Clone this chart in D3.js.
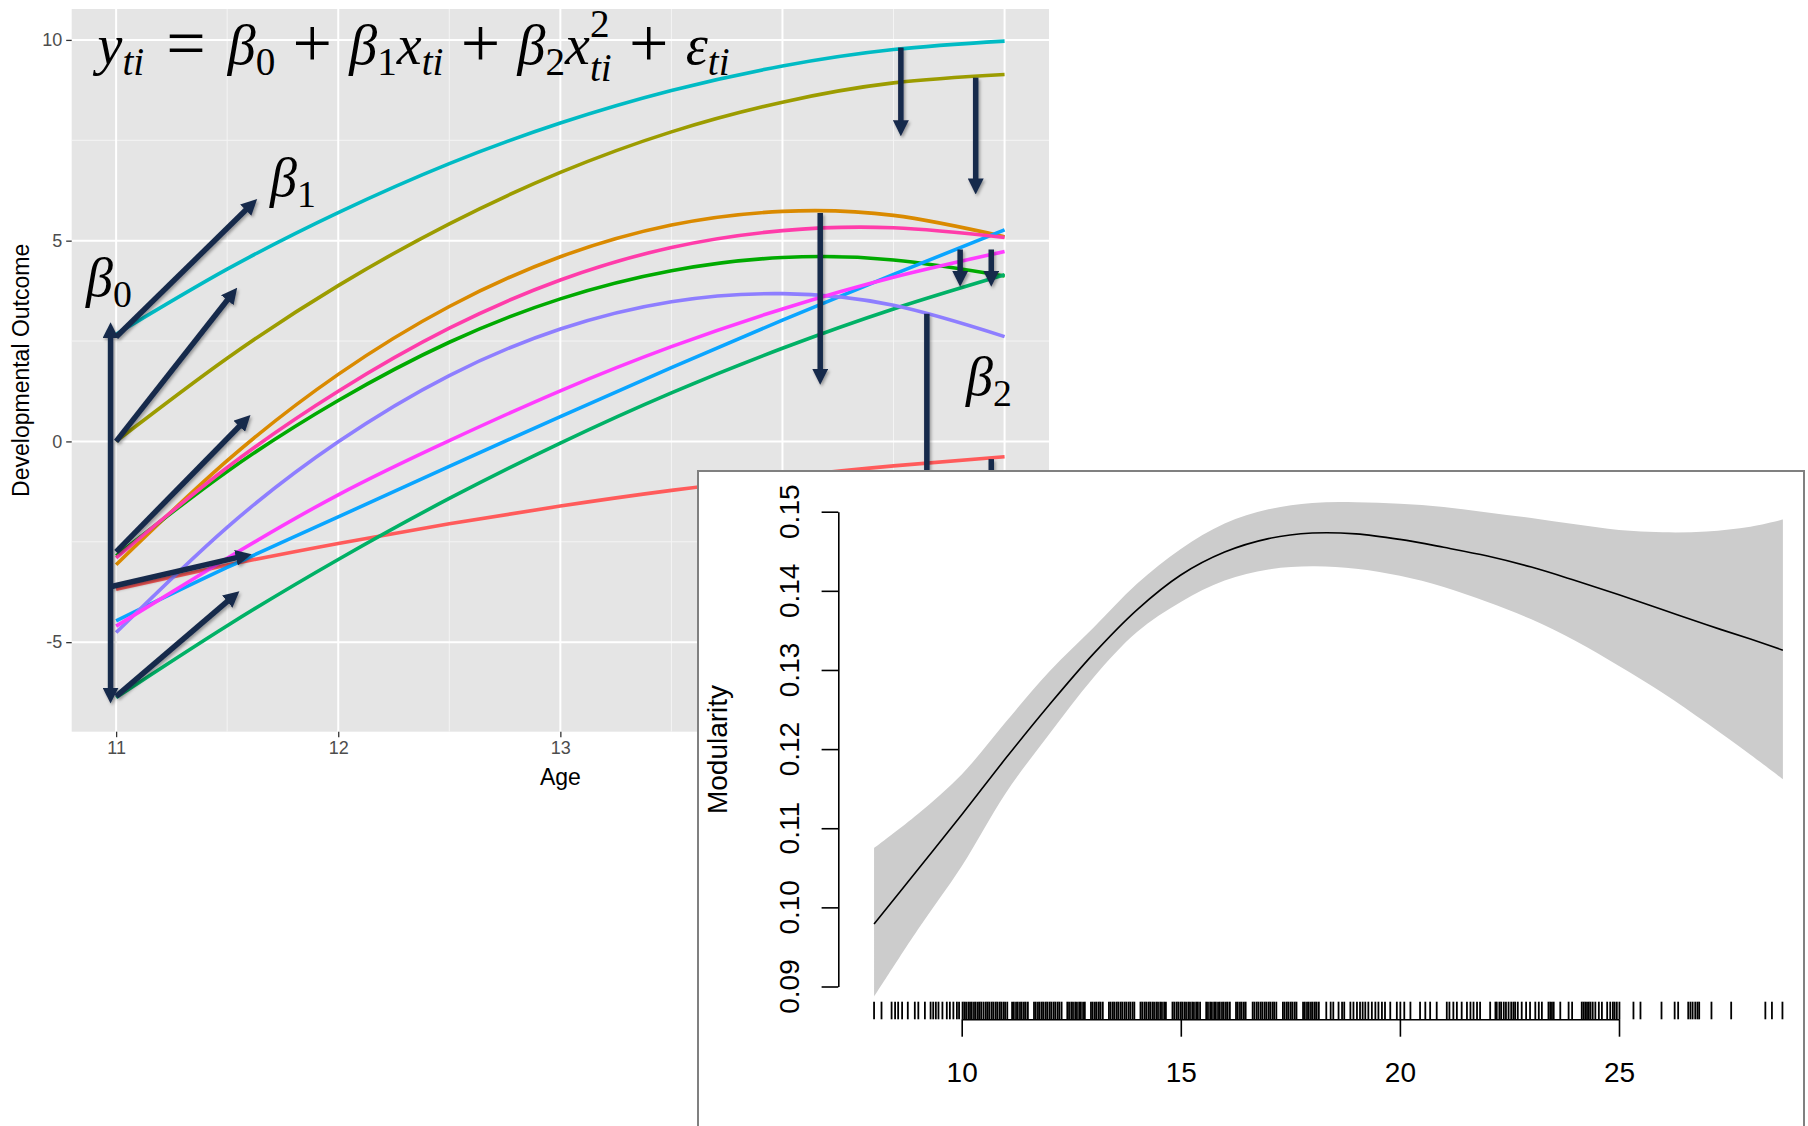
<!DOCTYPE html>
<html>
<head>
<meta charset="utf-8">
<script src="https://cdn.jsdelivr.net/npm/d3@7"></script>
<style>
body { margin: 0; background: #fff; }
svg { display: block; }
</style>
</head>
<body>
<div id="chart"></div>
<script>
// ---- left plot: individual quadratic trajectories, read at each half year ----
var ageGrid = [11, 11.5, 12, 12.5, 13, 13.5, 14, 14.5, 15];

var outcomeRed      = [-3.68, -3.08, -2.54, -2.05, -1.61, -1.22, -0.89, -0.61, -0.38];
var outcomeOrange   = [-3.07, -0.48, 1.67, 3.36, 4.60, 5.39, 5.73, 5.63, 5.10];
var outcomeOlive    = [0.00, 2.07, 3.88, 5.42, 6.70, 7.71, 8.45, 8.93, 9.14];
var outcomeGreen    = [-2.85, -0.75, 1.02, 2.47, 3.55, 4.25, 4.58, 4.52, 4.12];
var outcomeSeaGreen = [-6.38, -4.59, -2.94, -1.42, -0.04, 1.21, 2.32, 3.30, 4.15];
var outcomeCyan     = [2.67, 4.29, 5.70, 6.92, 7.93, 8.74, 9.35, 9.76, 9.97];
var outcomeBlue     = [-4.47, -3.14, -1.88, -0.62, 0.62, 1.84, 3.02, 4.16, 5.27];
var outcomePurple   = [-4.76, -2.14, -0.01, 1.64, 2.80, 3.48, 3.68, 3.39, 2.61];
var outcomeMagenta  = [-4.60, -2.91, -1.33, 0.02, 1.26, 2.36, 3.30, 4.09, 4.73];
var outcomePink     = [-2.90, -0.65, 1.25, 2.82, 4.02, 4.83, 5.25, 5.32, 5.08];

var trajectories = [outcomeRed, outcomeOrange, outcomeOlive, outcomeGreen, outcomeSeaGreen,
                    outcomeCyan, outcomeBlue, outcomePurple, outcomeMagenta, outcomePink];
var trajectoryColors = ["#ff5b5b", "#da8a00", "#9c9c00", "#00aa00", "#00b166",
                        "#00bbc4", "#0aa5ff", "#8e7eff", "#ff3cff", "#ff3caa"];

var ageTicks = [11, 12, 13, 14, 15];
var ageMinor = [11.5, 12.5, 13.5, 14.5];
var outcomeTicks = [-5, 0, 5, 10];
var outcomeMinor = [-2.5, 2.5, 7.5];

// annotation arrows (age, outcome): intercepts, slopes, residual drops
var arrowFromAge = [10.975, 11.0, 11.0, 11.0, 10.975, 11.0, 14.533, 14.87, 14.17, 14.80, 14.94, 14.65, 14.94];
var arrowFromOut = [2.97, 2.60, 0.00, -2.75, -3.62, -6.35, 9.81, 9.06, 5.69, 4.78, 4.78, 3.18, -0.44];
var arrowToAge   = [10.975, 11.635, 11.545, 11.605, 11.61, 11.555, 14.533, 14.87, 14.17, 14.80, 14.94, 14.65, 14.94];
var arrowToOut   = [-6.53, 6.04, 3.83, 0.66, -2.81, -3.73, 7.60, 6.15, 1.41, 3.85, 3.85, -3.0, -3.0];
var arrowDouble  = [true, false, false, false, false, false, false, false, false, false, false, false, false];

// ---- inset: smooth of modularity by age ----
var smoothAge   = [8, 9, 10, 11, 12, 13, 14, 15, 16, 17, 18, 19, 20, 21, 22, 23, 24, 25, 26, 27, 28, 28.74];
var smoothFit   = [0.0979, 0.1048, 0.1117, 0.1188, 0.1256, 0.1320, 0.1376, 0.1420, 0.1449, 0.1466, 0.1473,
                   0.1472, 0.1465, 0.1455, 0.1444, 0.1430, 0.1413, 0.1395, 0.1376, 0.1357, 0.1339, 0.1325];
var smoothUpper = [0.1075, 0.1118, 0.1168, 0.1234, 0.1298, 0.1353, 0.1409, 0.1453, 0.1485, 0.1503, 0.1511,
                   0.1512, 0.1510, 0.1506, 0.1499, 0.1492, 0.1484, 0.1477, 0.1474, 0.1475, 0.1481, 0.1490];
var smoothLower = [0.0887, 0.0972, 0.1052, 0.1144, 0.1219, 0.1290, 0.1348, 0.1386, 0.1413, 0.1427, 0.1431,
                   0.1428, 0.1419, 0.1405, 0.1386, 0.1364, 0.1337, 0.1305, 0.1271, 0.1233, 0.1193, 0.1162];

var modTicks = [0.09, 0.10, 0.11, 0.12, 0.13, 0.14, 0.15];
var insetAgeTicks = [10, 15, 20, 25];

var rugLow = [8.00, 8.17, 8.40, 8.48, 8.55, 8.64, 8.77, 8.93, 9.01, 9.16, 9.29, 9.35, 9.41, 9.47, 9.56,
              9.66, 9.73, 9.81, 9.89, 9.94];
var rugDense = [10.02, 10.06, 10.10, 10.15, 10.19, 10.23, 10.28, 10.32, 10.37, 10.41, 10.45, 10.50, 10.55,
                10.59, 10.63, 10.68, 10.72, 10.77, 10.81, 10.86, 10.90, 10.95, 10.99, 11.04, 11.15, 11.19,
                11.24, 11.28, 11.33, 11.37, 11.42, 11.46, 11.51, 11.65, 11.69, 11.74, 11.78, 11.83, 11.87,
                11.92, 11.96, 12.01, 12.05, 12.10, 12.14, 12.19, 12.23, 12.28, 12.41, 12.45, 12.50, 12.54,
                12.59, 12.63, 12.68, 12.72, 12.77, 12.81, 12.95, 12.99, 13.04, 13.08, 13.13, 13.17, 13.22,
                13.36, 13.40, 13.45, 13.49, 13.54, 13.58, 13.63, 13.67, 13.72, 13.76, 13.81, 13.85, 13.90,
                13.94, 14.08, 14.12, 14.17, 14.21, 14.26, 14.30, 14.35, 14.39, 14.44, 14.48, 14.53, 14.57,
                14.62, 14.66, 14.81, 14.85, 14.90, 14.94, 14.99, 15.03, 15.08, 15.12, 15.17, 15.21, 15.26,
                15.30, 15.35, 15.39, 15.44, 15.58, 15.62, 15.67, 15.71, 15.76, 15.80, 15.85, 15.89, 15.94,
                15.98, 16.03, 16.07, 16.12, 16.26, 16.30, 16.35, 16.39, 16.44, 16.48, 16.64, 16.68, 16.73,
                16.77, 16.82, 16.86, 16.91, 16.95, 17.00, 17.04, 17.09, 17.13, 17.18, 17.33, 17.37, 17.42,
                17.46, 17.51, 17.55, 17.60, 17.64, 17.79, 17.83, 17.88, 17.92, 17.97, 18.01, 18.06, 18.10,
                18.15, 18.32];
var rugMid = [18.42, 18.48, 18.60, 18.68, 18.73, 18.87, 18.94, 19.02, 19.09, 19.15, 19.21, 19.28, 19.36,
              19.44, 19.51, 19.59, 19.66, 19.78, 19.93, 20.01, 20.10, 20.24, 20.46, 20.58, 20.69, 20.84,
              21.07, 21.13, 21.22, 21.30, 21.41, 21.53, 21.61, 21.68, 21.76, 21.83, 22.06, 22.18];
var rugUpper = [22.21, 22.27, 22.31, 22.37, 22.42, 22.48, 22.54, 22.59, 22.63, 22.69, 22.78, 22.88, 22.97,
                23.09, 23.17, 23.24, 23.39, 23.43, 23.47, 23.51, 23.66, 23.85, 23.93, 24.15, 24.19, 24.23,
                24.27, 24.31, 24.35, 24.40, 24.46, 24.54, 24.61, 24.73, 24.80, 24.86, 24.90, 24.95, 25.01];
var rugHigh = [25.33, 25.49, 25.97, 26.27, 26.35, 26.58, 26.63, 26.68, 26.74, 26.79, 26.83, 27.11, 27.56,
               28.34, 28.49, 28.73];

var navy = "#182a4b";
var sansFont = "'Liberation Sans', Arial, Helvetica, sans-serif";
var mathFont = "'Liberation Serif'";

var svg = d3.select("#chart").append("svg")
  .attr("width", 1808)
  .attr("height", 1126);

var defs = svg.append("defs");
defs.append("filter").attr("id", "shadow").attr("x", "-20%").attr("y", "-20%").attr("width", "140%").attr("height", "140%")
  .append("feDropShadow")
  .attr("dx", 1.5).attr("dy", 2).attr("stdDeviation", 1.6)
  .attr("flood-color", "#000").attr("flood-opacity", 0.35);
defs.append("marker")
  .attr("id", "head")
  .attr("markerUnits", "userSpaceOnUse")
  .attr("viewBox", "0 0 16 16")
  .attr("markerWidth", 16).attr("markerHeight", 16)
  .attr("refX", 4).attr("refY", 8)
  .attr("orient", "auto-start-reverse")
  .append("path")
  .attr("d", "M0,0 L16,8 L0,16 Z")
  .attr("fill", navy);

// ================= left plot =================
var xAge = d3.scaleLinear().domain([10.8, 15.2]).range([71.7, 1049]);
var yOut = d3.scaleLinear().domain([-7.23, 10.77]).range([731.7, 9]);

var left = svg.append("g");

left.append("rect")
  .attr("x", xAge.range()[0]).attr("y", yOut.range()[1])
  .attr("width", xAge.range()[1] - xAge.range()[0])
  .attr("height", yOut.range()[0] - yOut.range()[1])
  .attr("fill", "#e5e5e5");

left.selectAll(".vminor").data(ageMinor).enter().append("line")
  .attr("x1", d => xAge(d)).attr("x2", d => xAge(d))
  .attr("y1", yOut.range()[0]).attr("y2", yOut.range()[1])
  .attr("stroke", "#f4f4f4").attr("stroke-width", 1);
left.selectAll(".hminor").data(outcomeMinor).enter().append("line")
  .attr("x1", xAge.range()[0]).attr("x2", xAge.range()[1])
  .attr("y1", d => yOut(d)).attr("y2", d => yOut(d))
  .attr("stroke", "#f4f4f4").attr("stroke-width", 1);
left.selectAll(".vmajor").data(ageTicks).enter().append("line")
  .attr("x1", d => xAge(d)).attr("x2", d => xAge(d))
  .attr("y1", yOut.range()[0]).attr("y2", yOut.range()[1])
  .attr("stroke", "#fff").attr("stroke-width", 2);
left.selectAll(".hmajor").data(outcomeTicks).enter().append("line")
  .attr("x1", xAge.range()[0]).attr("x2", xAge.range()[1])
  .attr("y1", d => yOut(d)).attr("y2", d => yOut(d))
  .attr("stroke", "#fff").attr("stroke-width", 2);

var xAxisL = left.append("g")
  .attr("transform", "translate(0," + yOut.range()[0] + ")")
  .call(d3.axisBottom(xAge).tickValues(ageTicks).tickSize(5.5).tickPadding(4).tickFormat(d3.format("d")));
var yAxisL = left.append("g")
  .attr("transform", "translate(" + xAge.range()[0] + ",0)")
  .call(d3.axisLeft(yOut).tickValues(outcomeTicks).tickSize(5.5).tickPadding(4).tickFormat(d => d < 0 ? "-" + Math.abs(d) : d));
[xAxisL, yAxisL].forEach(function(a) {
  a.select(".domain").remove();
  a.selectAll("line").attr("stroke", "#333").attr("stroke-width", 1.3);
  a.selectAll("text").attr("fill", "#4d4d4d").style("font-size", "18px").style("font-family", sansFont);
});

left.append("text")
  .attr("x", (xAge.range()[0] + xAge.range()[1]) / 2).attr("y", 785)
  .attr("text-anchor", "middle").style("font-size", "23px").style("font-family", sansFont).attr("fill", "#000")
  .text("Age");
left.append("text")
  .attr("transform", "translate(29," + (yOut.range()[0] + yOut.range()[1]) / 2 + ") rotate(-90)")
  .attr("text-anchor", "middle").style("font-size", "23px").style("font-family", sansFont).attr("fill", "#000")
  .text("Developmental Outcome");

var traj = d3.line()
  .x((d, i) => xAge(ageGrid[i]))
  .y(d => yOut(d))
  .curve(d3.curveNatural);

left.selectAll(".traj").data(trajectories).enter().append("path")
  .attr("d", traj)
  .attr("fill", "none")
  .attr("stroke", (d, i) => trajectoryColors[i])
  .attr("stroke-width", 3.6);

// arrows
var arrowG = left.append("g").attr("filter", "url(#shadow)");
arrowG.selectAll(".arrow").data(arrowFromAge).enter().append("line")
  .each(function(d, i) {
    var x1 = xAge(arrowFromAge[i]), y1 = yOut(arrowFromOut[i]);
    var x2 = xAge(arrowToAge[i]), y2 = yOut(arrowToOut[i]);
    var len = Math.hypot(x2 - x1, y2 - y1);
    var ux = (x2 - x1) / len, uy = (y2 - y1) / len;
    var cut = 12;
    if (arrowDouble[i]) { x1 += ux * cut; y1 += uy * cut; }
    x2 -= ux * cut; y2 -= uy * cut;
    d3.select(this)
      .attr("x1", x1).attr("y1", y1).attr("x2", x2).attr("y2", y2)
      .attr("marker-end", "url(#head)")
      .attr("marker-start", arrowDouble[i] ? "url(#head)" : null);
  })
  .attr("stroke", navy)
  .attr("stroke-width", 5.5);

// math labels: one <text> per formula, pieces placed as tspans
function mathText(g, x, y, size, parts, gapScale) {
  var text = g.append("text").style("font-family", mathFont).attr("fill", "#000");
  var cx = x, stackW = 0;
  parts.forEach(function(p) {
    if (p.gap) { cx += p.gap * size * gapScale; return; }
    var fs = p.lvl ? size * 0.7 : p.big ? size * 1.25 : size;
    var dy = p.lvl == "sub" ? size * (p.low ? 0.3 : 0.2) : p.lvl == "sup" ? -size * 0.48 : p.big ? size * 0.06 : 0;
    var ts = text.append("tspan")
      .attr("x", cx).attr("y", y + dy)
      .style("font-family", mathFont)
      .style("font-size", fs + "px")
      .style("font-style", p.it ? "italic" : "normal")
      .text(p.t);
    var w = ts.node().getComputedTextLength();
    if (p.stack) { stackW = w; return; }
    cx += Math.max(w, stackW);
    stackW = 0;
  });
  return {text: text, width: cx - x};
}

var eqParts = [
  {t: "y", it: 1}, {t: "ti", it: 1, lvl: "sub"},
  {gap: 0.28}, {t: "=", big: 1}, {gap: 0.28},
  {t: "β", it: 1}, {t: "0", lvl: "sub"},
  {gap: 0.22}, {t: "+", big: 1}, {gap: 0.22},
  {t: "β", it: 1}, {t: "1", lvl: "sub"}, {t: "x", it: 1}, {t: "ti", it: 1, lvl: "sub"},
  {gap: 0.22}, {t: "+", big: 1}, {gap: 0.22},
  {t: "β", it: 1}, {t: "2", lvl: "sub"}, {t: "x", it: 1}, {t: "2", lvl: "sup", stack: 1}, {t: "ti", it: 1, lvl: "sub", low: 1},
  {gap: 0.22}, {t: "+", big: 1}, {gap: 0.22},
  {t: "ε", it: 1}, {t: "ti", it: 1, lvl: "sub"}
];
var eqSize = 56;
var probe = mathText(left, 0, -200, eqSize, eqParts, 0);
probe.text.remove();
var gapTotal = d3.sum(eqParts, p => p.gap || 0) * eqSize;
mathText(left, 97.6, 64, eqSize, eqParts, Math.max(0.5, (632 - probe.width) / gapTotal));

mathText(left, 86, 296, 54, [{t: "β", it: 1}, {t: "0", lvl: "sub"}], 1);
mathText(left, 270, 196, 54, [{t: "β", it: 1}, {t: "1", lvl: "sub"}], 1);
mathText(left, 966, 395, 54, [{t: "β", it: 1}, {t: "2", lvl: "sub"}], 1);

// ================= inset =================
var inset = svg.append("g").style("font-family", sansFont);
inset.append("rect")
  .attr("x", 698).attr("y", 471)
  .attr("width", 1106).attr("height", 700)
  .attr("fill", "#fff")
  .attr("stroke", "#808080").attr("stroke-width", 2);

var xMod = d3.scaleLinear().domain([10, 25]).range([961.7, 1619]);
var yMod = d3.scaleLinear().domain([0.09, 0.15]).range([986.5, 511.7]);

var band = d3.area()
  .x((d, i) => xMod(smoothAge[i]))
  .y0((d, i) => yMod(smoothLower[i]))
  .y1((d, i) => yMod(smoothUpper[i]))
  .curve(d3.curveCatmullRom.alpha(0.5));
inset.append("path").datum(smoothAge).attr("d", band).attr("fill", "#cccccc");

var fitLine = d3.line()
  .x((d, i) => xMod(smoothAge[i]))
  .y(d => yMod(d))
  .curve(d3.curveCatmullRom.alpha(0.5));
inset.append("path").datum(smoothFit).attr("d", fitLine)
  .attr("fill", "none").attr("stroke", "#000").attr("stroke-width", 1.6);

var rugAges = [].concat(rugLow, rugDense, rugMid, rugUpper, rugHigh);
inset.selectAll(".rug").data(rugAges).enter().append("line")
  .attr("x1", d => xMod(d)).attr("x2", d => xMod(d))
  .attr("y1", 1001.7).attr("y2", 1019.3)
  .attr("stroke", "#000").attr("stroke-width", 1.8);

var yAxisI = inset.append("g")
  .attr("transform", "translate(838.3,0)")
  .call(d3.axisLeft(yMod).tickValues(modTicks).tickSize(16.7).tickSizeOuter(0).tickFormat(""));
var xAxisI = inset.append("g")
  .attr("transform", "translate(0,1019.3)")
  .call(d3.axisBottom(xMod).tickValues(insetAgeTicks).tickSize(17.4).tickSizeOuter(0).tickPadding(25).tickFormat(d3.format("d")));
[yAxisI, xAxisI].forEach(function(a) {
  a.selectAll("line, path").attr("stroke", "#000").attr("stroke-width", 1.6);
  a.selectAll("text").attr("fill", "#000").style("font-size", "28px").style("font-family", sansFont);
});

inset.selectAll(".modlab").data(modTicks).enter().append("text")
  .attr("transform", d => "translate(798.7," + yMod(d) + ") rotate(-90)")
  .attr("text-anchor", "middle")
  .style("font-size", "28px")
  .text(d => d3.format(".2f")(d));

inset.append("text")
  .attr("transform", "translate(727,749.5) rotate(-90)")
  .attr("text-anchor", "middle")
  .style("font-size", "28px")
  .text("Modularity");
</script>
</body>
</html>
